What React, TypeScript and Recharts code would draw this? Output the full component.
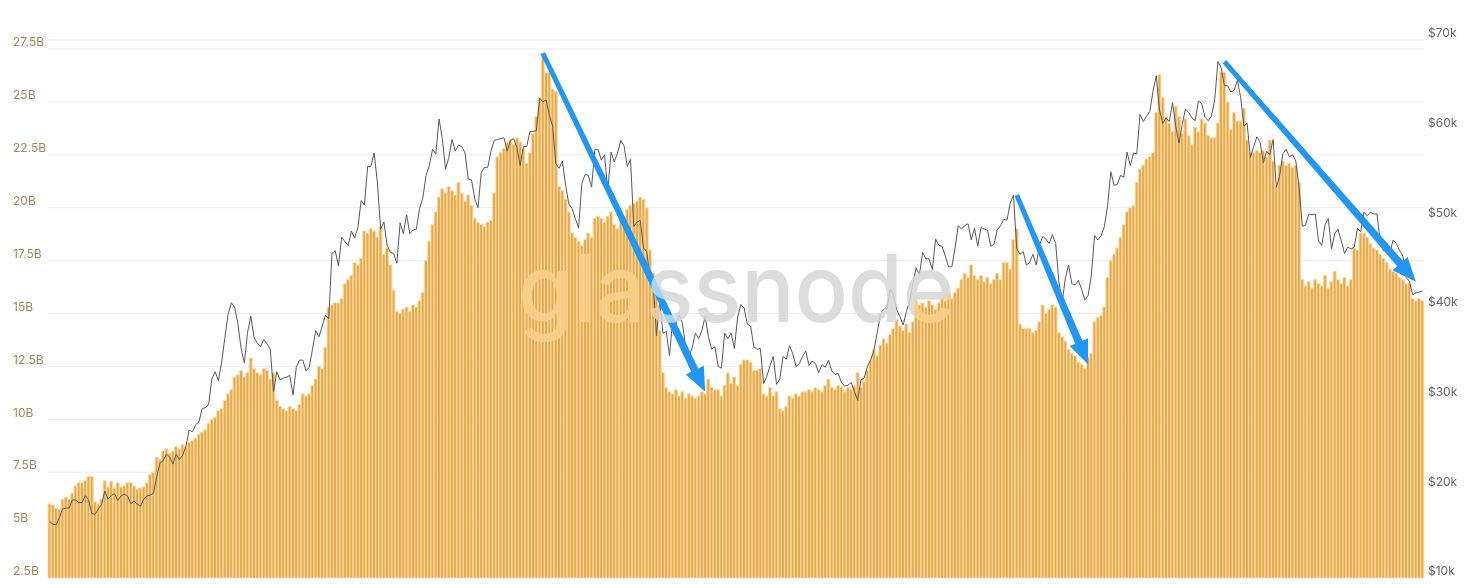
import React from 'react';
import { ComposedChart, Bar, Line, XAxis, YAxis, CartesianGrid, ReferenceLine, ReferenceDot } from 'recharts';

// daily values, 13 Nov 2020 .. 10 Jan 2022
const supply = [
  6.0, 5.95, 5.8, 5.75, 6.2, 6.3, 6.2, 6.5, 6.85, 7.0,
  7.0, 7.1, 7.3, 7.3, 6.1, 6.0, 6.2, 7.1, 6.8, 7.05,
  6.75, 7.0, 6.8, 6.85, 7.0, 7.0, 6.85, 6.7, 6.75, 6.8,
  7.0, 7.4, 7.5, 8.2, 8.1, 8.5, 8.6, 8.4, 8.5, 8.7,
  8.6, 8.8, 8.7, 8.9, 9.0, 9.1, 9.3, 9.4, 9.5, 9.8,
  10.0, 10.1, 10.4, 10.5, 10.9, 11.2, 11.4, 12.0, 12.1, 12.3,
  12.0, 12.2, 12.9, 12.4, 12.2, 12.1, 12.4, 12.3, 11.9, 12.2,
  10.9, 10.6, 10.5, 10.4, 10.6, 10.5, 10.4, 10.7, 11.2, 11.1,
  11.2, 11.6, 11.9, 12.5, 12.4, 13.4, 15.3, 15.4, 15.5, 15.5,
  15.7, 16.4, 16.6, 16.8, 17.4, 17.3, 17.6, 18.9, 18.8, 19.0,
  18.9, 18.6, 19.1, 17.8, 18.1, 17.3, 16.1, 15.1, 15.0, 15.2,
  15.3, 15.1, 15.4, 15.3, 15.6, 16.0, 17.5, 18.4, 19.2, 19.8,
  20.5, 20.9, 20.7, 21.0, 20.8, 20.6, 21.2, 20.7, 20.3, 20.6,
  20.1, 19.5, 19.3, 19.2, 19.1, 19.3, 19.4, 20.7, 22.4, 22.6,
  22.8, 23.1, 23.2, 23.0, 23.3, 23.1, 22.8, 22.1, 22.6, 23.5,
  24.3, 25.2, 27.3, 26.4, 26.4, 25.6, 25.5, 21.0, 20.8, 20.4,
  19.8, 18.8, 18.6, 18.4, 18.2, 18.5, 18.8, 18.6, 19.5, 19.6,
  19.5, 19.3, 19.6, 19.8, 19.2, 19.0, 19.4, 19.5, 19.9, 20.1,
  20.2, 20.3, 20.5, 20.4, 20.0, 18.0, 16.9, 15.8, 14.2, 12.2,
  11.5, 11.3, 11.2, 11.4, 11.1, 11.3, 11.0, 11.2, 11.1, 11.0,
  11.1, 11.3, 11.2, 11.9, 11.5, 11.4, 11.4, 11.1, 11.6, 12.2,
  11.7, 12.0, 11.6, 12.6, 12.8, 12.8, 12.7, 12.3, 12.3, 12.4,
  11.2, 11.1, 11.5, 11.1, 11.3, 10.5, 10.4, 10.6, 11.1, 11.0,
  11.2, 11.1, 11.3, 11.3, 11.4, 11.3, 11.5, 11.4, 11.3, 11.6,
  11.9, 11.5, 11.4, 11.6, 11.5, 11.3, 11.5, 11.4, 11.6, 12.2,
  11.5, 11.8, 12.3, 12.8, 13.3, 13.0, 13.5, 13.8, 13.6, 14.0,
  14.3, 14.7, 14.4, 14.2, 14.5, 14.1, 14.6, 15.6, 15.4, 15.5,
  15.3, 15.6, 15.4, 15.2, 15.5, 15.7, 15.6, 15.9, 15.7, 16.0,
  16.2, 16.6, 16.9, 16.7, 17.3, 16.8, 16.6, 16.8, 16.5, 16.7,
  16.4, 16.6, 16.9, 16.6, 17.4, 17.4, 17.1, 18.5, 19.0, 14.5,
  14.3, 14.3, 14.3, 14.1, 14.2, 14.6, 15.4, 15.0, 15.2, 15.4,
  15.3, 14.1, 13.9, 13.7, 13.3, 13.1, 13.0, 12.7, 12.6, 12.4,
  12.9, 13.1, 14.6, 14.8, 14.9, 15.3, 16.7, 17.5, 17.8, 18.1,
  18.6, 19.2, 19.8, 20.0, 20.1, 21.2, 21.8, 22.0, 22.3, 22.4,
  22.6, 24.5, 26.3, 25.2, 24.3, 24.0, 23.6, 24.8, 24.3, 23.5,
  24.2, 23.4, 23.0, 23.8, 23.6, 24.2, 24.0, 23.4, 23.3, 23.3,
  24.0, 26.4, 26.4, 25.0, 23.7, 24.5, 24.1, 24.1, 24.7, 23.2,
  22.6, 22.6, 22.7, 22.6, 22.7, 22.4, 23.2, 22.2, 21.0, 22.0,
  22.2, 22.0, 22.1, 21.9, 22.0, 21.2, 16.6, 16.3, 16.5, 16.2,
  16.6, 16.4, 16.3, 16.8, 16.2, 16.5, 17.0, 16.6, 16.4, 16.7,
  16.3, 16.6, 18.1, 18.0, 18.8, 18.8, 18.6, 18.3, 18.1, 18.0,
  17.8, 17.6, 17.4, 17.1, 17.0, 16.9, 16.7, 16.6, 16.4, 16.4,
  15.7, 15.6, 15.7, 15.6,
];

// BTC price in $k
const price = [
  16.3, 16.0, 15.95, 16.7, 17.7, 17.8, 17.8, 18.7, 18.7, 18.4, 18.4, 19.2, 18.7, 17.2, 17.1, 17.7, 18.2, 19.7,
  18.8, 19.2, 19.4, 18.65, 19.15, 19.35, 19.15, 18.3, 18.55, 18.25, 18.0, 18.8, 19.15, 19.25, 19.45, 21.3,
  22.8, 23.1, 23.8, 23.5, 22.7, 23.8, 23.2, 23.7, 24.7, 26.5, 26.3, 27.1, 27.4, 28.9, 29.0,
  29.4, 32.2, 33.0, 32.0, 34.0, 36.8, 39.4, 40.7, 40.2, 38.4, 35.6, 34.0, 37.4, 39.2, 36.8, 36.2,
  35.8, 36.6, 36.1, 35.5, 30.8, 33.0, 32.1, 32.3, 32.4, 32.6, 30.4, 33.5, 34.3, 34.3, 33.1,
  33.5, 35.5, 37.6, 36.9, 38.1, 39.3, 38.9, 46.2, 46.5, 44.8, 48.0, 47.5, 47.1, 48.7,
  47.9, 49.1, 52.1, 51.6, 55.9, 55.9, 57.4, 54.1, 48.9, 49.7, 47.1, 46.3, 46.2, 45.1,
  49.6, 48.4, 50.5, 48.4, 48.8, 48.9, 51.2, 52.4, 54.9, 56.0, 57.8, 57.3, 61.2, 59.0, 55.6, 56.9,
  58.9, 57.6, 58.3, 58.1, 57.4, 54.5, 54.4, 52.3, 51.3, 55.2, 55.8, 55.8, 57.6, 58.8, 58.9,
  59.0, 59.1, 57.6, 58.8, 59.0, 58.0, 56.0, 58.1, 58.1, 59.8, 59.8, 59.9, 63.5, 63.1, 63.3,
  61.6, 60.4, 56.2, 55.7, 56.5, 53.8, 51.7, 51.2, 50.1, 49.0, 54.0, 55.0, 54.9, 53.6, 57.8,
  57.8, 56.6, 57.2, 53.2, 57.5, 56.4, 57.4, 58.8, 58.2, 55.9, 56.7, 49.2, 49.7, 49.9, 46.8, 46.4,
  43.5, 42.9, 37.0, 40.8, 37.3, 37.5, 34.8, 38.8, 38.4, 39.3, 38.4, 35.7, 34.6, 35.7, 37.3,
  36.7, 37.6, 39.2, 36.9, 35.5, 35.8, 33.6, 33.4, 37.3, 36.7, 37.3, 35.6, 39.1, 40.5, 40.1,
  38.3, 38.1, 35.8, 35.5, 35.6, 31.7, 32.5, 33.7, 34.7, 31.6, 32.2, 34.7, 34.4, 35.9, 35.0,
  33.6, 33.9, 34.7, 35.3, 33.7, 34.2, 33.9, 32.9, 33.8, 33.5, 34.3, 33.1, 32.7, 32.8, 31.8, 31.4,
  31.5, 31.8, 30.8, 29.8, 32.1, 32.3, 33.6, 34.3, 35.4, 37.3, 39.4, 40.0, 40.0, 42.2, 41.6,
  39.9, 39.2, 38.2, 39.7, 40.9, 42.8, 44.6, 43.8, 46.3, 45.6, 45.6, 44.4, 47.8, 47.1, 47.0, 45.9,
  44.7, 44.7, 46.8, 49.3, 48.9, 49.3, 49.5, 47.7, 49.0, 47.0, 49.1, 48.9, 48.8, 47.0, 47.2,
  48.8, 49.3, 50.0, 49.9, 51.8, 52.7, 46.8, 46.1, 46.4, 44.9, 45.2, 46.1, 44.9, 47.1, 48.1,
  47.8, 47.3, 48.3, 47.3, 43.0, 40.7, 43.5, 44.9, 42.8, 42.7, 43.2, 42.2, 41.0, 41.5, 43.8,
  48.2, 47.7, 48.2, 49.2, 51.5, 55.3, 53.8, 53.9, 54.9, 54.7, 57.5, 56.0, 57.4, 57.3, 61.7, 60.9,
  61.5, 62.0, 64.3, 66.0, 62.2, 60.7, 61.3, 60.9, 63.0, 60.4, 58.5, 60.6, 62.3, 61.9, 61.3,
  61.0, 63.2, 62.9, 61.4, 61.0, 61.5, 63.3, 67.6, 66.9, 64.9, 64.9, 64.2, 64.4, 65.5, 63.6,
  60.4, 60.7, 56.9, 58.1, 59.2, 58.6, 56.3, 57.6, 57.2, 58.9, 53.6, 54.8, 57.3, 57.8, 57.0,
  57.2, 56.5, 53.6, 49.2, 49.4, 50.6, 50.5, 50.6, 47.6, 47.1, 49.4, 50.1, 46.7, 48.4, 48.9, 47.6,
  46.2, 46.9, 46.7, 46.9, 49.0, 48.6, 50.8, 50.4, 50.8, 50.6, 50.6, 47.5, 46.5, 47.1, 46.3,
  47.7, 47.3, 46.5, 45.9, 43.5, 43.1, 41.6, 41.8, 41.9, 42.0,
];

const leftTicks = [2.5, 5, 7.5, 10, 12.5, 15, 17.5, 20, 22.5, 25, 27.5];
const rightTicks = [10, 20, 30, 40, 50, 60, 70];

// annotation arrows: [day, value on left axis]
const arrowStarts = [[152, 27.3], [298, 20.6], [362, 26.9]];
const arrowEnds = [[202, 11.3], [320, 12.6], [421, 16.5]];

const data = supply.map((v, i) => ({ day: i, supply: v, price: price[i] }));

const LeftTick = ({ y, payload }: any) => (
  <text x={13} y={y - 6} dominantBaseline="middle" fill="#a8875f" fontSize={12} fontFamily="Inter, sans-serif">
    {payload.value}B
  </text>
);

const RightTick = ({ y, payload }: any) => (
  <text x={1428} y={y - 6} dominantBaseline="middle" fill="#666" fontSize={12} fontFamily="Inter, sans-serif">
    ${payload.value}k
  </text>
);

const Arrow = (props: any) => {
  const { x1, y1, x2, y2 } = props;
  const dx = x2 - x1;
  const dy = y2 - y1;
  const len = Math.hypot(dx, dy) || 1;
  const ux = dx / len, uy = dy / len;
  const nx = -uy, ny = ux;
  const head = 24, hw = 10, w0 = 2.4, w1 = 3.9;
  const bx = x2 - ux * head, by = y2 - uy * head;
  const pts = [
    [x1 + nx * w0, y1 + ny * w0],
    [bx + nx * w1, by + ny * w1],
    [bx + nx * hw, by + ny * hw],
    [x2, y2],
    [bx - nx * hw, by - ny * hw],
    [bx - nx * w1, by - ny * w1],
    [x1 - nx * w0, y1 - ny * w0],
  ];
  return <polygon points={pts.map((p) => p.join(',')).join(' ')} fill="#2196f3" />;
};

// watermark: grey on white, light orange over the bars
const Watermark = () => (
  <text x={518} y={322} fontSize={94} fontFamily="Inter, sans-serif" fontWeight={500}
    textLength={437} lengthAdjust="spacingAndGlyphs" fill="#d6d6d6" fillOpacity={0.85}
    style={{ mixBlendMode: 'luminosity' }}>
    glassnode
  </text>
);

export default function App() {
  return (
    <div style={{ position: 'absolute', left: 0, top: 0, width: 1467, height: 588, background: '#fff' }}>
      <ComposedChart width={1467} height={588} data={data}
        margin={{ top: 40, right: 0, bottom: 10, left: 0 }} barCategoryGap={0} barGap={0}>
        <CartesianGrid yAxisId="left" vertical={false} stroke="#ececec" />
        <XAxis dataKey="day" hide />
        <YAxis yAxisId="left" orientation="left" width={48} domain={[2.5, 27.925]} ticks={leftTicks}
          axisLine={false} tickLine={false} tick={<LeftTick />} allowDataOverflow />
        <YAxis yAxisId="right" orientation="right" width={43} domain={[10, 70]} ticks={rightTicks}
          axisLine={false} tickLine={false} tick={<RightTick />} allowDataOverflow />
        <Bar yAxisId="left" dataKey="supply" fill="#eaa84a" stroke="#f8dca4" strokeWidth={1} isAnimationActive={false} />
        <Line yAxisId="right" dataKey="price" stroke="#5a5a5a" strokeWidth={1} dot={false} isAnimationActive={false} />
        <ReferenceDot yAxisId="left" x={200} y={15} shape={Watermark} />
        {arrowStarts.map((s, i) => (
          <ReferenceLine key={i} yAxisId="left" ifOverflow="visible"
            segment={[{ x: s[0], y: s[1] }, { x: arrowEnds[i][0], y: arrowEnds[i][1] }]}
            shape={Arrow} />
        ))}
      </ComposedChart>
    </div>
  );
}
